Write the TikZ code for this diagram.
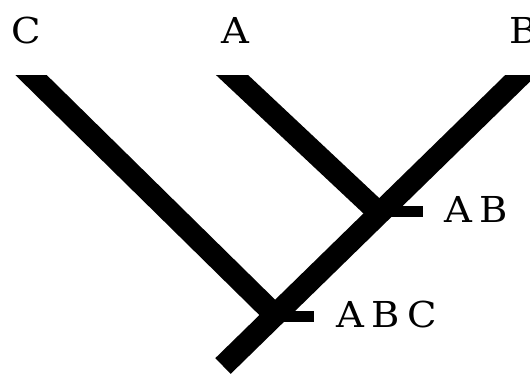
\documentclass[tikz,border=0pt]{standalone}
\usepackage{fontspec}
\newfontfamily\labfont[FakeStretch=1.08,LetterSpace=20]{DejaVu Serif}
\begin{document}
\begin{tikzpicture}[x=1pt,y=-1pt,
  branch/.style={line width=22pt, line cap=butt},
  ticker/.style={line width=11pt, line cap=butt},
  lab/.style={font=\labfont\fontsize{35.7}{40}\selectfont, inner sep=0pt, anchor=base west}]
\useasboundingbox (0,0) rectangle (530,373);
\coordinate (Ctop) at (31,75);
\coordinate (Atop) at (232,75);
\coordinate (Btop) at (521,75);
\coordinate (AB) at (378,212);
\coordinate (ABC) at (275,315);
\coordinate (root) at (223,366);
\coordinate (ABend) at (423,211);
\coordinate (ABCend) at (314,316);
\begin{scope}
\clip (0,75) rectangle (560,400);
\draw[branch, shorten <=-40pt] (Ctop) -- (ABC);
\draw[branch, shorten <=-40pt] (Atop) -- (AB);
\draw[branch, shorten <=-40pt] (Btop) -- (root);
\end{scope}
\draw[ticker] (AB |- ABend) -- (ABend);
\draw[ticker] (ABC |- ABCend) -- (ABCend);
\node[lab] (lC) at (11,43) {C};
\node[lab] (lA) at (221,43) {A};
\node[lab] (lB) at (509,43) {B};
\node[lab] (lAB) at (444,222) {AB};
\node[lab] (lABC) at (336,327) {ABC};
\end{tikzpicture}
\end{document}
